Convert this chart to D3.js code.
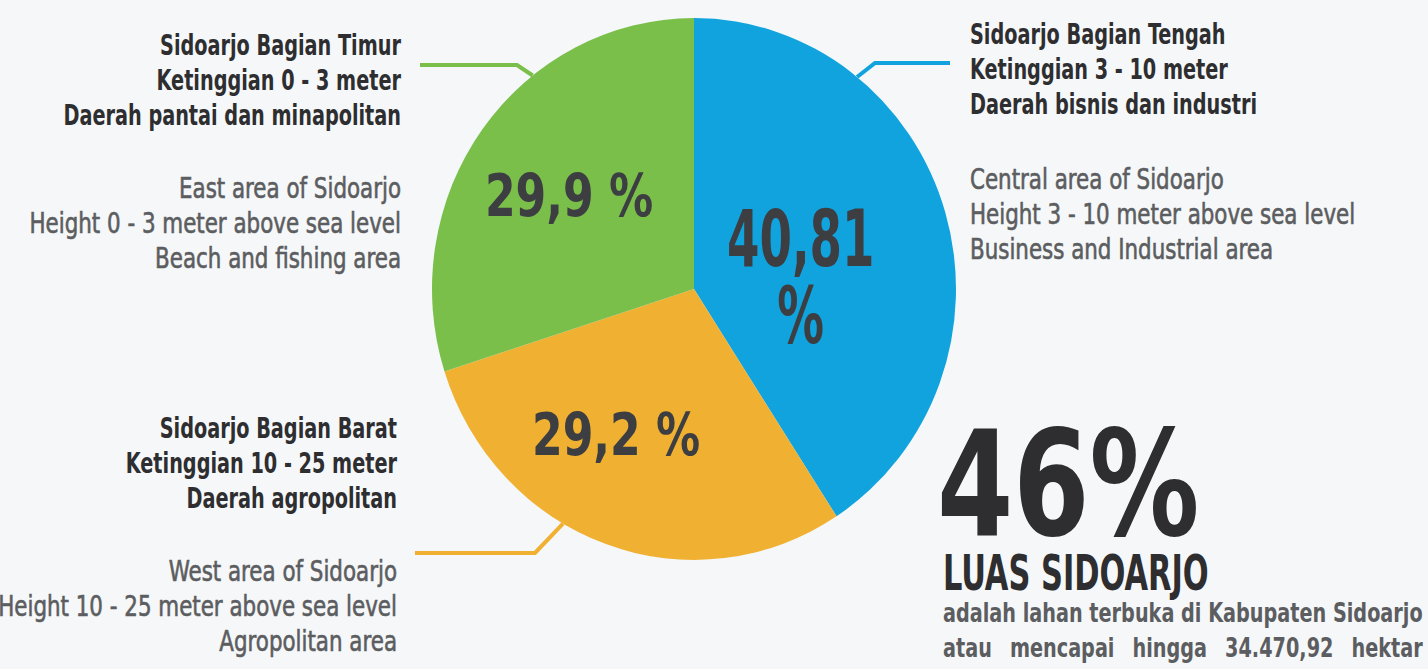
<!DOCTYPE html>
<html>
<head>
<meta charset="utf-8">
<script src="https://cdn.jsdelivr.net/npm/d3@7"></script>
<style>
  html, body { margin: 0; padding: 0; background: #f5f7f9; }
  svg { display: block; }
  text { font-family: "DejaVu Sans Condensed", "DejaVu Sans", sans-serif; }
</style>
</head>
<body>
<svg id="chart" width="1428" height="669"></svg>
<script>
// slices clockwise from 12 o'clock
const slice_names = ['Sidoarjo Bagian Tengah', 'Sidoarjo Bagian Barat', 'Sidoarjo Bagian Timur']
const slice_values = [40.81, 29.2, 29.9]
const slice_labels = [['40,81', '%'], ['29,2 %'], ['29,9 %']]

const timur_lines = ['Sidoarjo Bagian Timur', 'Ketinggian 0 - 3 meter', 'Daerah pantai dan minapolitan']
const timur_en = ['East area of Sidoarjo', 'Height 0 - 3 meter above sea level', 'Beach and fishing area']
const barat_lines = ['Sidoarjo Bagian Barat', 'Ketinggian 10 - 25 meter', 'Daerah agropolitan']
const barat_en = ['West area of Sidoarjo', 'Height 10 - 25 meter above sea level', 'Agropolitan area']
const tengah_lines = ['Sidoarjo Bagian Tengah', 'Ketinggian 3 - 10 meter', 'Daerah  bisnis dan industri']
const tengah_en = ['Central area of Sidoarjo', 'Height 3 - 10 meter above sea level', 'Business and Industrial area']

const big_number = '46%'
const big_title = 'LUAS SIDOARJO'
const big_note = ['adalah lahan terbuka di Kabupaten Sidoarjo', 'atau mencapai hingga 34.470,92 hektar']

const slice_colors = ['#10a3de', '#f0b132', '#7bbf4b']
const dark = '#2e2e30'
const grey = '#5c5d60'

const svg = d3.select('#chart')
const cx = 694, cy = 289, radius = 262

const color = d3.scaleOrdinal().domain(slice_names).range(slice_colors)
const pie = d3.pie().sort(null).value(d => d.value)
const arcs = pie(slice_names.map((n, i) => ({name: n, value: slice_values[i], label: slice_labels[i]})))
const arc = d3.arc().innerRadius(0).outerRadius(radius)

function polar(angle, r) {
  return [cx + r * Math.sin(angle * Math.PI / 180), cy - r * Math.cos(angle * Math.PI / 180) * 1.034]
}

// leader lines: touch point angle, elbow, end x
function leader(touch_angle, elbow, end_x, col) {
  var p0 = polar(touch_angle, radius)
  svg.append('path')
    .attr('d', d3.line()([p0, elbow, [end_x, elbow[1]]]))
    .attr('fill', 'none')
    .attr('stroke', col)
    .attr('stroke-width', 4)
}
leader(-38, [517, 65], 420, color(slice_names[2]))
leader(38.5, [875, 63], 950, color(slice_names[0]))
leader(210, [535, 553], 415, color(slice_names[1]))

const pie_g = svg.append('g').attr('transform', 'translate(' + cx + ',' + cy + ') scale(1,1.034)')
pie_g.selectAll('path.slice')
  .data(arcs)
  .enter().append('path')
  .attr('class', 'slice')
  .attr('d', arc)
  .attr('fill', d => color(d.data.name))

// pie labels
const label_arc = d3.arc().innerRadius(0).outerRadius(radius * 1.2)
const label_nudge = [[-44, 34], [-25, -8], [2, 2]]
const label_size = [78, 58, 58]
const label_sx = [0.665, 0.845, 0.845]
arcs.forEach(function (d, i) {
  var c = label_arc.centroid(d)
  var x = cx + c[0] + label_nudge[i][0]
  var y = cy + c[1] * 1.034 + label_nudge[i][1]
  var n = d.data.label.length
  d.data.label.forEach(function (t, j) {
    svg.append('text')
      .attr('transform', 'translate(' + x + ',' + (y + (j - (n - 1) / 2) * 77 + label_size[i] * 0.36) + ') scale(' + label_sx[i] + ',1)')
      .attr('text-anchor', 'middle')
      .attr('font-size', label_size[i])
      .attr('font-weight', 'bold')
      .attr('fill', '#3d3e42')
      .text(t)
  })
})

function text_block(lines, x, y0, anchor, size, weight, col, sx) {
  lines.forEach(function (t, i) {
    var tx = svg.append('text')
      .attr('transform', 'translate(' + x + ',' + (y0 + i * 35) + ') scale(' + sx + ',1)')
      .attr('text-anchor', anchor)
      .attr('font-size', size)
      .attr('font-weight', weight)
      .attr('fill', col)
      .text(t)
    if (weight == 'normal') {
      tx.attr('stroke', col).attr('stroke-width', 0.6)
    }
  })
}

text_block(timur_lines, 401, 55, 'end', 28, 'bold', dark, 0.765)
text_block(timur_en, 401, 198, 'end', 28, 'normal', grey, 0.85)
text_block(barat_lines, 397, 438, 'end', 28, 'bold', dark, 0.765)
text_block(barat_en, 397, 581, 'end', 28, 'normal', grey, 0.85)
text_block(tengah_lines, 970, 44, 'start', 28, 'bold', dark, 0.765)
text_block(tengah_en, 970, 189, 'start', 28, 'normal', grey, 0.85)

svg.append('text')
  .attr('transform', 'translate(937,535) scale(0.835,1)')
  .attr('font-size', 146)
  .attr('font-weight', 'bold')
  .attr('fill', dark)
  .text(big_number)

svg.append('text')
  .attr('transform', 'translate(943,590) scale(0.677,1)')
  .attr('font-size', 50)
  .attr('font-weight', 'bold')
  .attr('fill', dark)
  .text(big_title)

// note lines: first one squeezed to the block width, second one justified by word gaps
const note_width = 480
var note_sx = 1
big_note.forEach(function (t, i) {
  var tx = svg.append('text')
    .attr('font-size', 26)
    .attr('font-weight', 'bold')
    .attr('fill', grey)
    .text(t)
  var w = tx.node().getComputedTextLength()
  if (i == 0) {
    note_sx = note_width / w
  } else {
    var gaps = t.split(' ').length - 1
    tx.attr('word-spacing', (note_width / note_sx - w) / gaps)
  }
  tx.attr('transform', 'translate(943,' + (622 + i * 35) + ') scale(' + note_sx + ',1)')
})
</script>
</body>
</html>
